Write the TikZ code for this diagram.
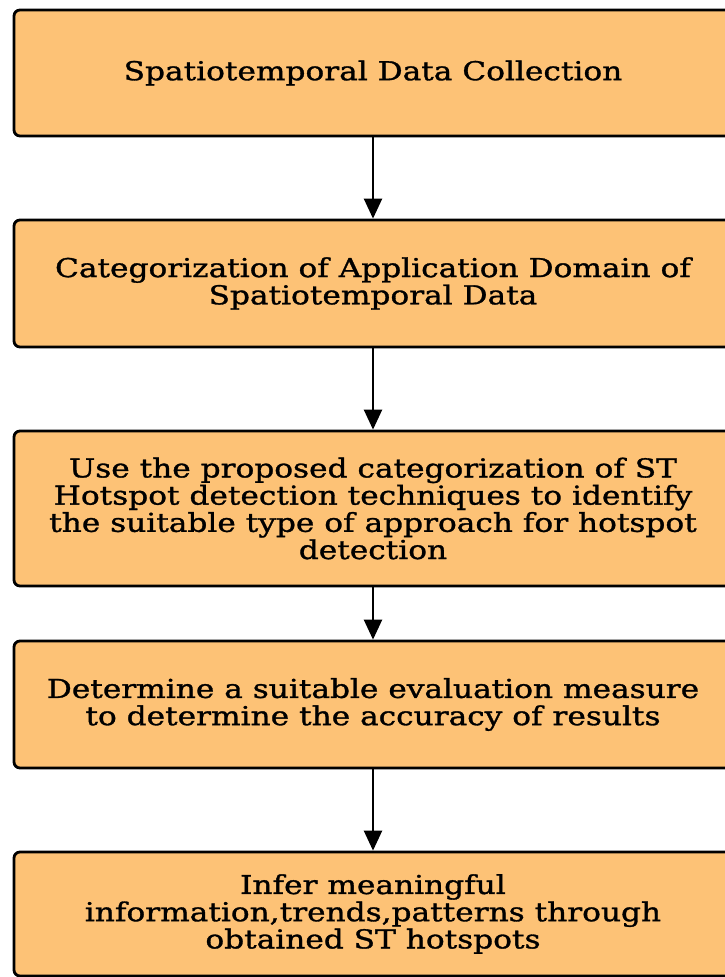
\documentclass[tikz,border=0pt]{standalone}
\usepackage{fontspec}
\setmainfont{DejaVu Serif}[FakeStretch=1.2,FakeBold=1.2]
\usetikzlibrary{arrows.meta}
\definecolor{boxfill}{RGB}{253,194,118}
\begin{document}
\begin{tikzpicture}[x=1pt,y=-1pt,
  stepbox/.style={draw=black,line width=2.8pt,fill=boxfill,rounded corners=6pt,
    minimum width=718pt,align=center,inner sep=0pt,
    font=\fontsize{26}{27.2}\selectfont},
  flow/.style={line width=2.4pt,-{Triangle[width=18pt,length=20pt]}}]
\useasboundingbox (0,0) rectangle (725,977);
\begin{scope}
\clip (0,0) rectangle (725,977);
\node[stepbox,minimum height=126pt] (b1) at (373,73) {Spatiotemporal Data Collection};
\node[stepbox,minimum height=127pt] (b2) at (373,283.5) {Categorization of Application Domain of\\Spatiotemporal Data};
\node[stepbox,minimum height=155pt] (b3) at (373,508.5) {Use the proposed categorization of ST\\Hotspot detection techniques to identify\\the suitable type of approach for hotspot\\detection};
\node[stepbox,minimum height=127pt] (b4) at (373,704.5) {Determine a suitable evaluation measure\\to determine the accuracy of results};
\node[stepbox,minimum height=124pt] (b5) at (373,914) {Infer meaningful\\information,trends,patterns through\\obtained ST hotspots};
\end{scope}
\draw[flow] (b1.south) -- (b2.north);
\draw[flow] (b2.south) -- (b3.north);
\draw[flow] (b3.south) -- (b4.north);
\draw[flow] (b4.south) -- (b5.north);
\end{tikzpicture}
\end{document}
